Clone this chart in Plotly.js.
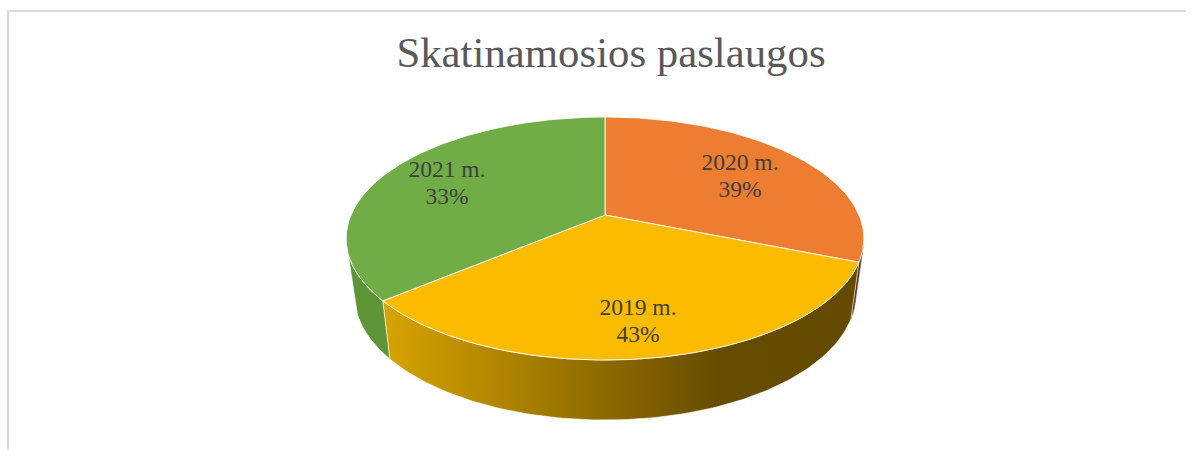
<!DOCTYPE html>
<html><head><meta charset="utf-8">
<script src="https://cdn.plot.ly/plotly-3.0.1.min.js"></script>
<style>html,body{margin:0;padding:0;background:#fff}#c{width:1194px;height:450px}</style>
</head><body><div id="c"></div>
<script>
var categories = ['2020 m.', '2019 m.', '2021 m.'];
var labelPercents = [39, 43, 33];
var sliceDegrees = [112, 118, 130];
var topColors = ['#ED7D31', '#FBBC00', '#70AD47'];
var labelX = [740, 638, 447];
var labelY = [164.5, 309, 171];

var cx = 605, persp = 0.1934;
function topRim(deg){var a=deg*Math.PI/180,t=Math.cos(a),s=Math.sin(a),d=1+persp*t;
  return [cx+254*s/d,(215-75.4*t)/d];}
function lowRim(deg){var a=deg*Math.PI/180,t=Math.cos(a),s=Math.sin(a),d=1+persp*t;
  return [cx+246*s/d,(270.5-68.3*t)/d];}
function arc(fn,a,b){var n=Math.max(4,Math.ceil(Math.abs(b-a))),o=[];
  for(var i=0;i<=n;i++)o.push(fn(a+(b-a)*i/n));return o;}
function wall(a,b,extra){var pts=arc(topRim,a,b).concat(arc(lowRim,b,a));pts.push(pts[0]);
  return Object.assign({type:'scatter',mode:'lines',x:pts.map(function(p){return p[0]}),y:pts.map(function(p){return p[1]}),
    fill:'toself',hoverinfo:'skip',showlegend:false,line:{color:'rgba(255,255,255,0.75)',width:0.8}},extra);}

var starts=[],acc=0;
sliceDegrees.forEach(function(d){starts.push(acc);acc+=d;});
var traces=[];
// side walls
traces.push(wall(105,starts[1],{fillcolor:'#5E3218',line:{color:'#8a6a55',width:0.5}}));
traces.push(wall(starts[1],starts[2],{
  fillcolor:'#FBBC00',
  fillgradient:{type:'horizontal',start:385,stop:860,
    colorscale:[[0,'#D6A300'],[0.35,'#9F7800'],[0.7,'#664C00'],[1,'#634A00']]}}));
traces.push(wall(starts[2],252,{fillcolor:'#5E9539'}));
// top slices
sliceDegrees.forEach(function(d,i){
  var pts=[[cx,215]].concat(arc(topRim,starts[i],starts[i]+d),[[cx,215]]);
  traces.push({type:'scatter',mode:'lines',x:pts.map(function(p){return p[0]}),y:pts.map(function(p){return p[1]}),
    fill:'toself',fillcolor:topColors[i],line:{color:'rgba(255,255,255,0.85)',width:1},
    name:categories[i],hoverinfo:'name',showlegend:false});
});
// data labels
traces.push({type:'scatter',mode:'text',x:labelX,y:labelY,text:categories,hoverinfo:'skip',showlegend:false,
  textposition:'middle center',textfont:{family:'Liberation Serif',size:23.5,color:'#404040'}});
traces.push({type:'scatter',mode:'text',x:labelX,y:labelY.map(function(v){return v+27}),
  text:labelPercents.map(function(v){return v+'%'}),hoverinfo:'skip',showlegend:false,
  textposition:'middle center',textfont:{family:'Liberation Serif',size:23.5,color:'#404040'}});

var layout={
  width:1194,height:450,margin:{l:0,r:0,t:0,b:0},showlegend:false,
  paper_bgcolor:'#fff',plot_bgcolor:'#fff',
  title:{text:'Skatinamosios paslaugos',x:611/1194,xanchor:'center',y:1-52/450,yanchor:'middle',
    font:{family:'Liberation Serif',size:42.8,color:'#595959'}},
  xaxis:{range:[0,1194],visible:false,fixedrange:true},
  yaxis:{range:[450,0],visible:false,fixedrange:true},
  shapes:[
    {type:'line',xref:'paper',yref:'paper',x0:8/1194,x1:8/1194,y0:0,y1:1-11/450,line:{color:'#D9D9D9',width:2}},
    {type:'line',xref:'paper',yref:'paper',x0:7/1194,x1:1186/1194,y0:1-11/450,y1:1-11/450,line:{color:'#D9D9D9',width:2}}
  ]
};
Plotly.newPlot('c',traces,layout,{displayModeBar:false,staticPlot:true});
</script></body></html>
